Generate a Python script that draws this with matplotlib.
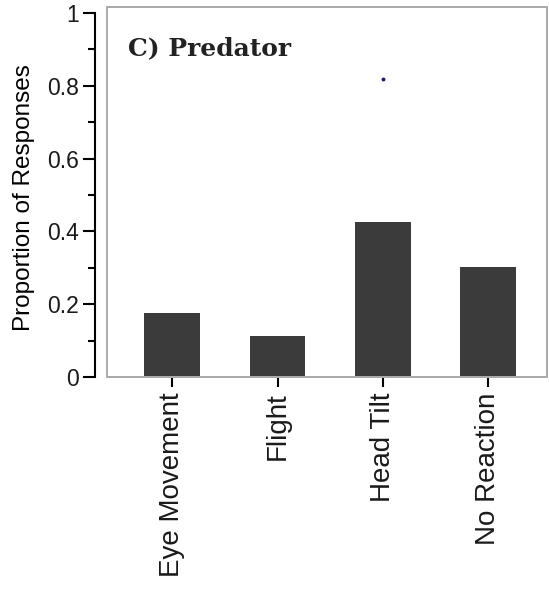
import numpy as np
import matplotlib
matplotlib.use("Agg")
from matplotlib import pyplot as plt
from matplotlib.patches import Rectangle
from matplotlib.ticker import MultipleLocator

categories = ["Eye Movement", "Flight", "Head Tilt", "No Reaction"]
proportions = [0.176, 0.113, 0.426, 0.302]
yticks = [0, 0.2, 0.4, 0.6, 0.8, 1]
ytick_labels = ["0", "0.2", "0.4", "0.6", "0.8", "1"]
panel_title = "C) Predator"

plt.rcParams['font.family'] = ['Liberation Sans', 'DejaVu Sans']
plt.rcParams['text.color'] = '#1a1a1a'

fig = plt.figure(figsize=(5.49, 5.93), dpi=100)
ax = fig.add_axes([0.1949, 0.3642, 0.8015, 0.624])

x = np.arange(len(categories))
ax.bar(x, proportions, width=0.53, color='#3b3b3b', zorder=2)

# stray dot in the original panel
ax.plot([2.0], [0.82], marker='o', ms=1.8, color='#1a1a6e', ls='none')

ax.set_xlim(-0.62, 3.56)
ax.set_ylim(0, 1.0165)

# gray frame around the plot area
for s in ['top', 'right', 'bottom']:
    ax.spines[s].set_color('#ababab')
    ax.spines[s].set_linewidth(1.4)
ax.add_patch(Rectangle((0, 0), 1, 1, transform=ax.transAxes, fill=False,
                       edgecolor='#ababab', lw=1.4, clip_on=False, zorder=3))

# detached black y axis
ax.spines['left'].set_position(('outward', 8.6))
ax.spines['left'].set_bounds(0, 1)
ax.spines['left'].set_linewidth(1.5)
ax.set_yticks(yticks)
ax.set_yticklabels(ytick_labels)
ax.yaxis.set_minor_locator(MultipleLocator(0.1))
ax.tick_params(axis='y', which='major', length=8.6, width=1.5, labelsize=16.5, pad=3,
               labelcolor='#1a1a1a')
ax.tick_params(axis='y', which='minor', length=5, width=1.5)

ax.set_xticks(x)
ax.set_xticklabels(categories, rotation=90, va='top', ha='center')
ax.tick_params(axis='x', length=7, width=1.5, color='black', labelsize=20, pad=4,
               labelcolor='#1a1a1a')

ax.set_ylabel("Proportion of Responses", fontsize=17.5)
ax.yaxis.set_label_coords(-0.164, 0.486)

ax.text(0.048, 0.889, panel_title, transform=ax.transAxes, va='center', ha='left',
        fontsize=18, fontweight='bold', family='DejaVu Serif', color='#222222')

fig.savefig("out.png", dpi=100)
